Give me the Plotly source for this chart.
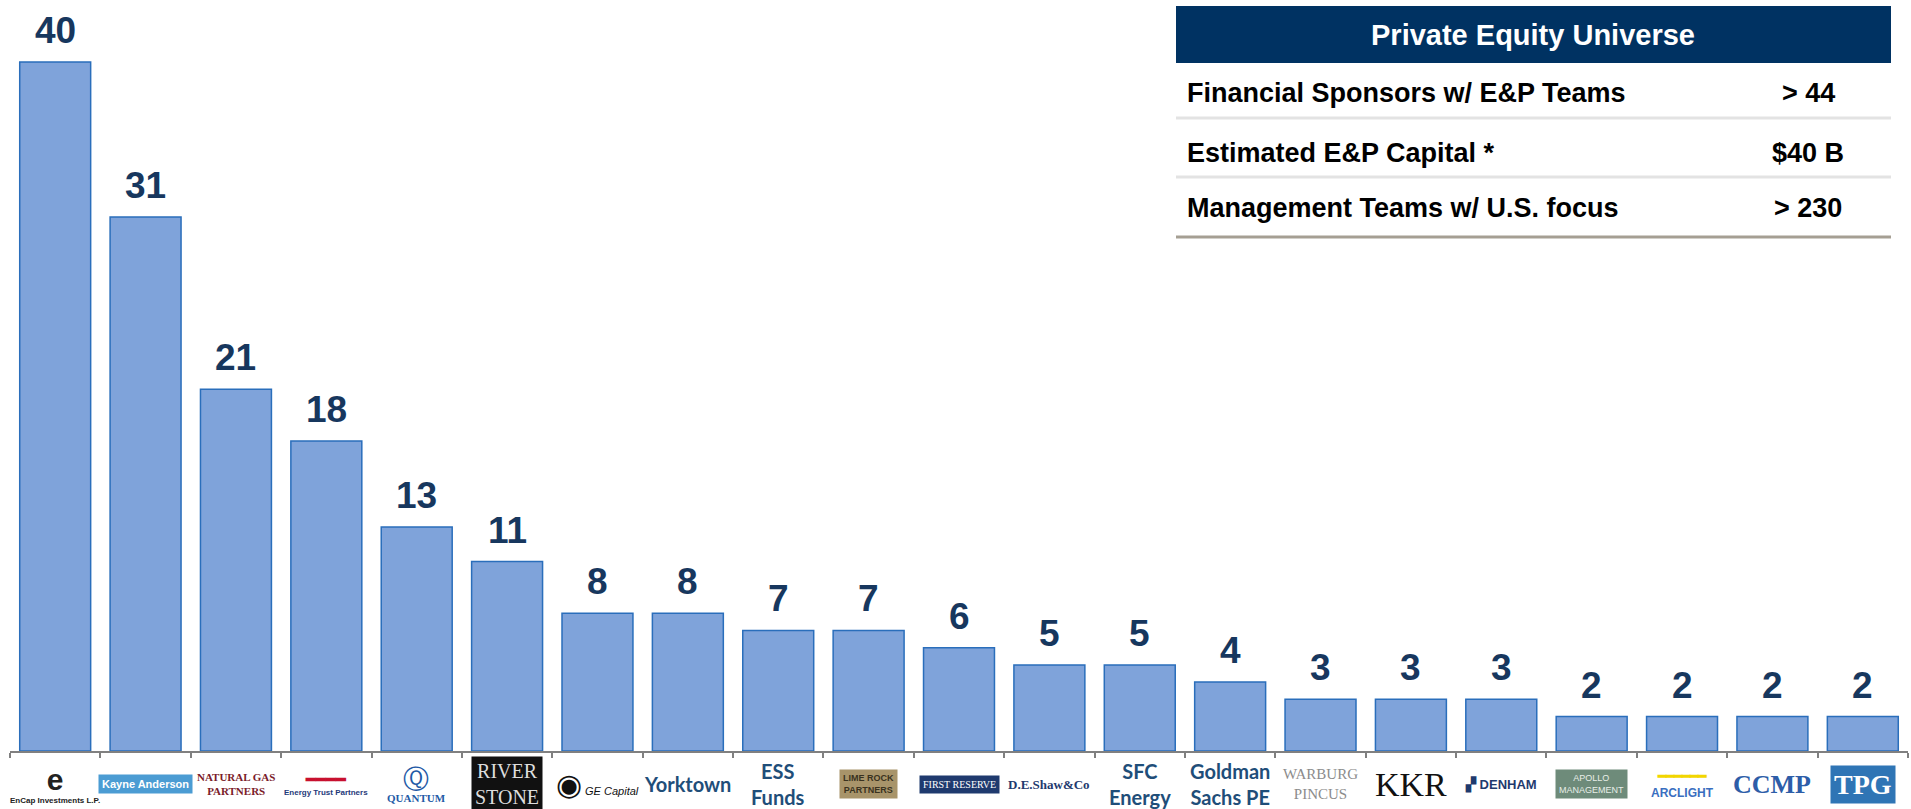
import plotly.graph_objects as go

# ---------------- data ----------------
sponsors = ["EnCap Investments", "Kayne Anderson", "Natural Gas Partners", "Energy Trust Partners",
            "Quantum", "Riverstone", "GE Capital", "Yorktown", "ESS Funds", "Lime Rock Partners",
            "First Reserve", "D.E. Shaw & Co", "SFC Energy", "Goldman Sachs PE", "Warburg Pincus",
            "KKR", "Denham", "Apollo Management", "ArcLight", "CCMP", "TPG"]
counts = [40, 31, 21, 18, 13, 11, 8, 8, 7, 7, 6, 5, 5, 4, 3, 3, 3, 2, 2, 2, 2]

label_texts = [
    "<span style='font-size:30px'><b>e</b></span><br><span style='font-size:8px'><b>EnCap Investments L.P.</b></span>",
    "<b>Kayne Anderson</b>",
    "<b>NATURAL GAS</b><br><b>PARTNERS</b>",
    "<span style='color:#C8102E;font-size:16px'><b>━━━━</b></span><br><span style='font-size:8px'><b>Energy Trust Partners</b></span>",
    "<span style='font-size:26px'>Ⓠ</span><br><b>QUANTUM</b>",
    "RIVER<br>STONE",
    "<span style='font-size:30px'>◉</span> <i>GE Capital</i>",
    "<b>Yorktown</b>",
    "<b>ESS</b><br><b>Funds</b>",
    "<b>LIME ROCK</b><br><b>PARTNERS</b>",
    "FIRST RESERVE",
    "<b>D.E.Shaw&amp;Co</b>",
    "<b>SFC</b><br><b>Energy</b>",
    "<b>Goldman</b><br><b>Sachs PE</b>",
    "WARBURG<br>PINCUS",
    "KKR",
    "<b>▞ DENHAM</b>",
    "APOLLO<br>MANAGEMENT",
    "<span style='color:#F2D600;font-size:14px'><b>━━━━━━</b></span><br><b>ARCLIGHT</b>",
    "<b>CCMP</b>",
    "<b>TPG</b>",
]

table_header = "Private Equity Universe"
table_rows = ["Financial Sponsors w/ E&P Teams", "Estimated E&P Capital *", "Management Teams w/ U.S. focus"]
table_values = ["> 44", "$40 B", "> 230"]

# ---------------- styles ----------------
label_styles = [
    dict(size=10, color="#222222", family="Liberation Sans", bg=None),
    dict(size=11, color="white", family="Liberation Sans", bg="#4B9CD3"),
    dict(size=11, color="#7B1C2A", family="Liberation Serif", bg=None),
    dict(size=8, color="#1F3A7A", family="Liberation Sans", bg=None),
    dict(size=11, color="#1F5AA6", family="Liberation Serif", bg=None),
    dict(size=20, color="#DDDDDD", family="Liberation Serif", bg="#111111"),
    dict(size=11, color="#111111", family="Liberation Sans", bg=None),
    dict(size=20, color="#1F4E79", family="Lato", bg=None),
    dict(size=20, color="#1F4E79", family="Lato", bg=None),
    dict(size=9, color="#3A3220", family="Liberation Sans", bg="#A8946A"),
    dict(size=10, color="white", family="Liberation Serif", bg="#1F3A6E"),
    dict(size=13, color="#1F3A6E", family="Liberation Serif", bg=None),
    dict(size=20, color="#1F4E79", family="Lato", bg=None),
    dict(size=20, color="#1F4E79", family="Lato", bg=None),
    dict(size=15, color="#8C8C8C", family="Liberation Serif", bg=None),
    dict(size=34, color="#111111", family="Liberation Serif", bg=None),
    dict(size=13, color="#1F3A6E", family="Liberation Sans", bg=None),
    dict(size=9, color="#E8EEE8", family="Liberation Sans", bg="#6E8B7A"),
    dict(size=12, color="#3A6EC0", family="Liberation Sans", bg=None),
    dict(size=26, color="#2D5DA8", family="Liberation Serif", bg=None),
    dict(size=28, color="white", family="Liberation Serif", bg="#2F75B5"),
]

W, H = 1911, 809
ML, MR, MT, MB = 10, 3, 0, 58
PW, PH = W - ML - MR, H - MT - MB


def px(x):
    return (x - ML) / PW


def py(y):
    return (H - MB - y) / PH


fig = go.Figure()
fig.add_trace(go.Bar(
    x=sponsors, y=counts,
    marker=dict(color="#7FA3DA", line=dict(color="#2A6EBB", width=1.5)),
    hoverinfo="x+y",
))

annotations = []
for s, c in zip(sponsors, counts):
    annotations.append(dict(x=s, y=c, xref="x", yref="y", text=f"<b>{c}</b>",
                            showarrow=False, yanchor="bottom", yshift=9,
                            font=dict(family="Liberation Sans, Arial", size=37, color="#17375E")))

for s, t, st in zip(sponsors, label_texts, label_styles):
    a = dict(x=s, y=0, xref="x", yref="y", text=t, showarrow=False,
             yanchor="middle", yshift=-33,
             font=dict(family=st["family"], size=st["size"], color=st["color"]))
    if st["bg"]:
        a["bgcolor"] = st["bg"]
        a["borderpad"] = 3
    annotations.append(a)

# table
shapes = [dict(type="rect", xref="paper", yref="paper", x0=px(1176), x1=px(1891), y0=py(63), y1=py(6),
               fillcolor="#003262", line=dict(width=0), layer="above")]
annotations.append(dict(x=px(1533), y=py(35), xref="paper", yref="paper", text=f"<b>{table_header}</b>",
                        showarrow=False, xanchor="center", yanchor="middle",
                        font=dict(family="Liberation Sans, Arial", size=29, color="white")))
row_y = [93, 153, 208]
line_y = [118, 177, 237]
line_cols = ["#E3E3E3", "#E3E3E3", "#A59F93"]
for r, v, ry, ly, lc in zip(table_rows, table_values, row_y, line_y, line_cols):
    annotations.append(dict(x=px(1185), y=py(ry), xref="paper", yref="paper", text=f"<b>{r}</b>",
                            showarrow=False, xanchor="left", yanchor="middle",
                            font=dict(family="Liberation Sans, Arial", size=27, color="black")))
    annotations.append(dict(x=px(1808), y=py(ry), xref="paper", yref="paper", text=f"<b>{v}</b>",
                            showarrow=False, xanchor="center", yanchor="middle",
                            font=dict(family="Liberation Sans, Arial", size=27, color="black")))
    shapes.append(dict(type="line", xref="paper", yref="paper", x0=px(1176), x1=px(1891), y0=py(ly), y1=py(ly),
                       line=dict(color=lc, width=3)))

fig.update_layout(
    width=W, height=H,
    margin=dict(l=ML, r=MR, t=MT, b=MB),
    paper_bgcolor="white", plot_bgcolor="white",
    bargap=0.215,
    showlegend=False,
    annotations=annotations,
    shapes=shapes,
    xaxis=dict(showticklabels=False, showline=True, linecolor="#808080", linewidth=2,
               ticks="outside", tickson="boundaries", ticklen=5, tickcolor="#808080", tickwidth=2,
               showgrid=False, zeroline=False, range=[-0.5, len(sponsors) - 0.5]),
    yaxis=dict(visible=False, range=[0, 43.6], showgrid=False, zeroline=False),
)

fig.write_html("out.html")
